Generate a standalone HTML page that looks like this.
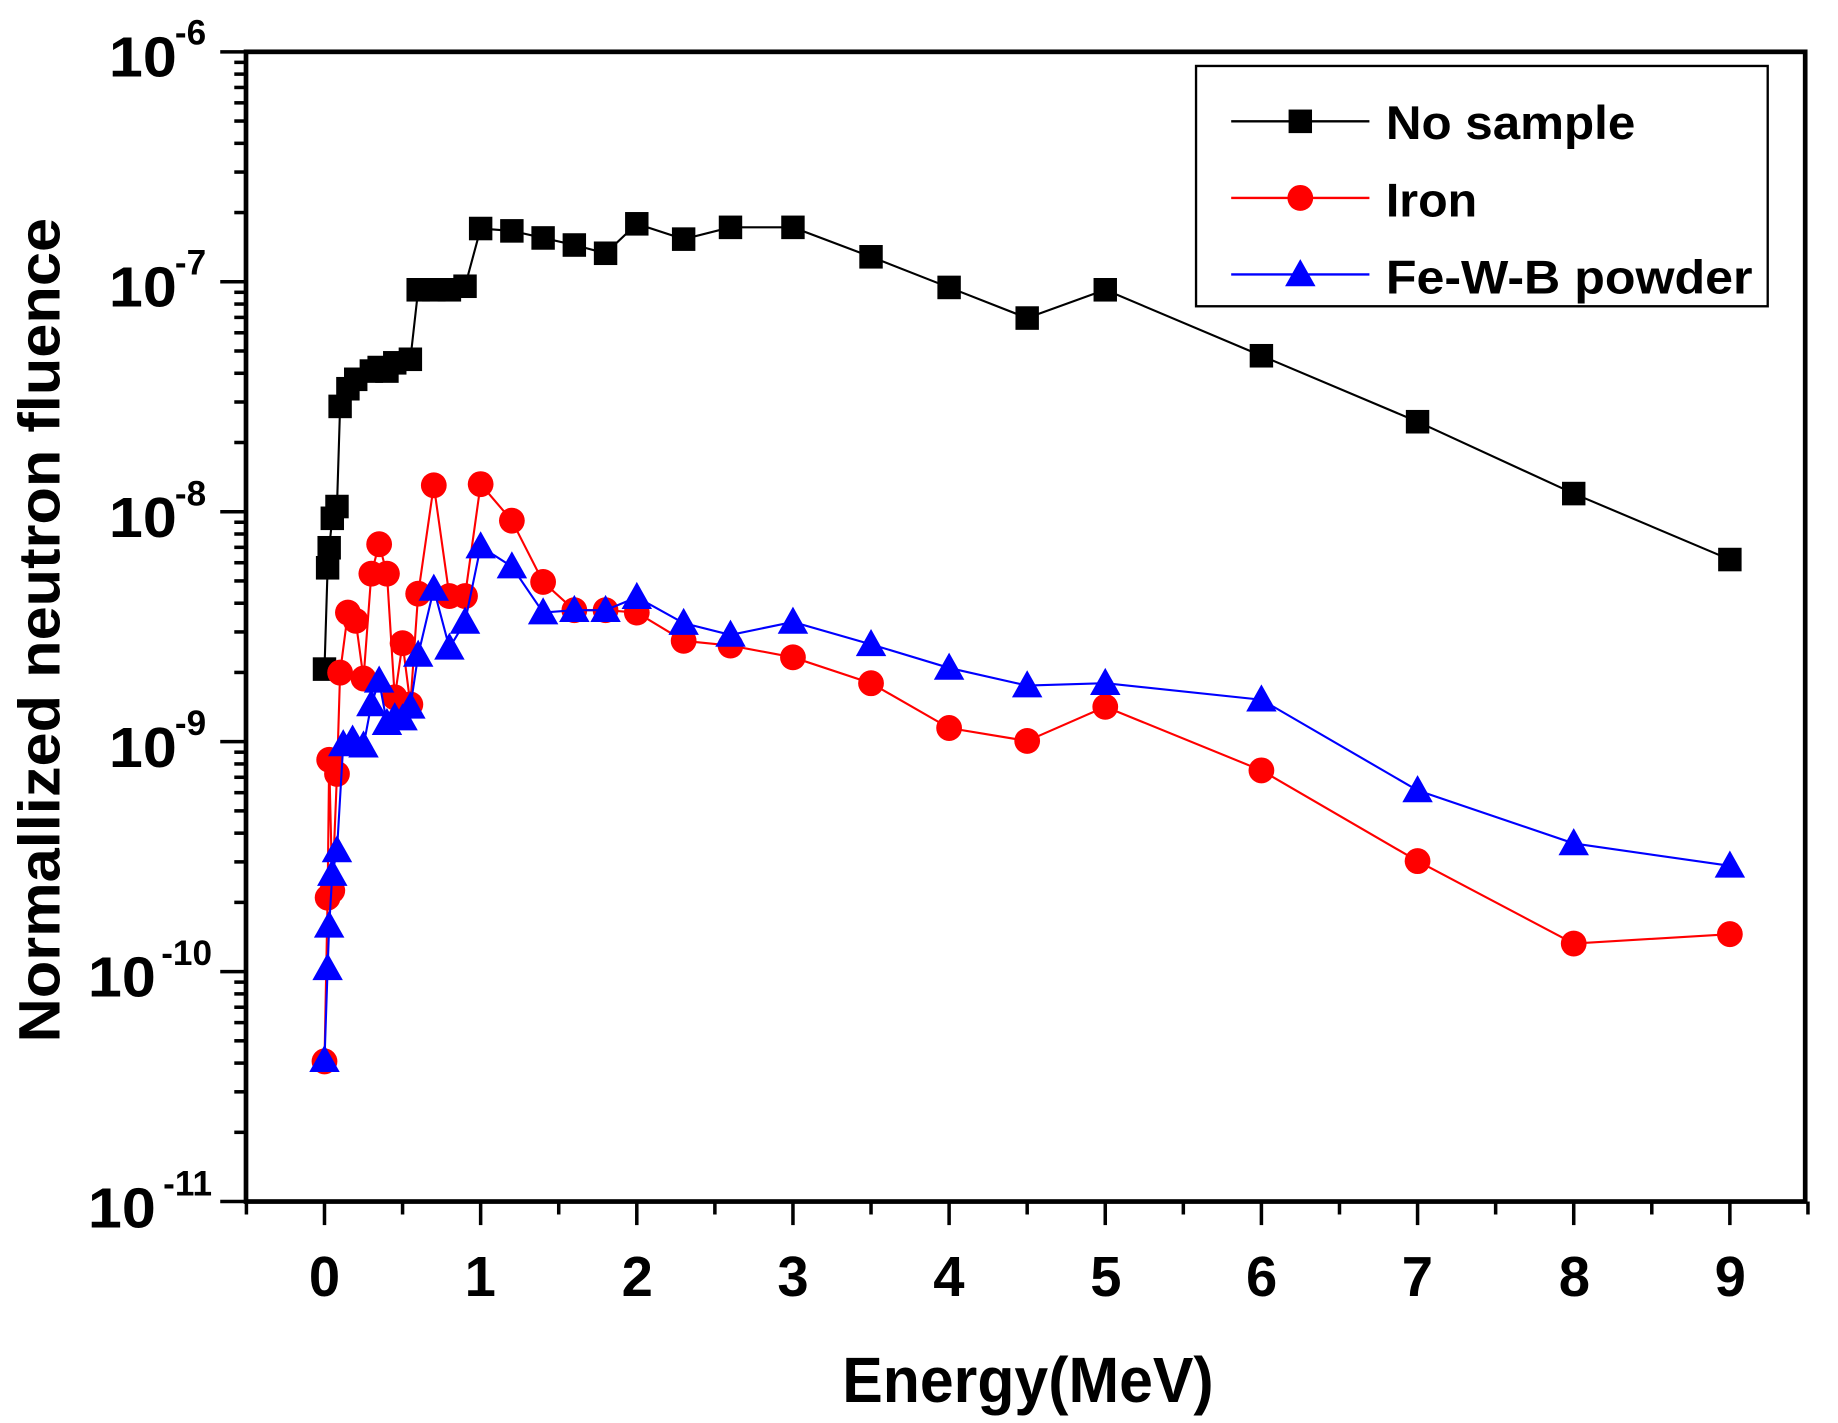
<!DOCTYPE html>
<html><head><meta charset="utf-8"><style>
html,body{margin:0;padding:0;background:#fff;}
svg{display:block;}
text{font-family:"Liberation Sans",Arial,sans-serif;font-weight:bold;fill:#000;}
</style></head><body>
<svg id="s" width="1838" height="1423" viewBox="0 0 1569 1208" preserveAspectRatio="none" xmlns="http://www.w3.org/2000/svg">
<rect x="0" y="0" width="1569" height="1208" fill="#fff"/>
<g transform="translate(1,0)">
<g id="ticks" stroke="#000" stroke-width="3"></g>
<g id="series"></g>
<rect x="209" y="44" width="1331" height="976" fill="none" stroke="#000" stroke-width="4"/>
<g font-size="48" text-anchor="end">
<text x="150" y="65" textLength="58" lengthAdjust="spacingAndGlyphs">10</text><text x="175" y="38" font-size="30" text-anchor="end">-6</text>
<text x="150" y="260" textLength="58" lengthAdjust="spacingAndGlyphs">10</text><text x="175" y="233" font-size="30" text-anchor="end">-7</text>
<text x="150" y="456" textLength="58" lengthAdjust="spacingAndGlyphs">10</text><text x="175" y="429" font-size="30" text-anchor="end">-8</text>
<text x="150" y="651" textLength="58" lengthAdjust="spacingAndGlyphs">10</text><text x="175" y="624" font-size="30" text-anchor="end">-9</text>
<text x="132" y="846" textLength="58" lengthAdjust="spacingAndGlyphs">10</text><text x="180" y="819" font-size="30" text-anchor="end">-10</text>
<text x="132" y="1042" textLength="58" lengthAdjust="spacingAndGlyphs">10</text><text x="180" y="1015" font-size="30" text-anchor="end">-11</text>
</g>
<g font-size="48" text-anchor="middle">
<text x="276" y="1100">0</text><text x="409" y="1100">1</text><text x="543" y="1100">2</text>
<text x="676" y="1100">3</text><text x="809" y="1100">4</text><text x="943" y="1100">5</text>
<text x="1076" y="1100">6</text><text x="1209" y="1100">7</text><text x="1343" y="1100">8</text>
<text x="1476" y="1100">9</text>
</g>
<text x="718" y="1190" font-size="54" textLength="317" lengthAdjust="spacingAndGlyphs">Energy(MeV)</text>
<text transform="translate(50,885) rotate(-90)" font-size="50" textLength="700" lengthAdjust="spacingAndGlyphs">Normallized neutron fluence</text>
<rect x="1020" y="56" width="488" height="204" fill="#fff" stroke="#000" stroke-width="2"/>
<line x1="1050" y1="103" x2="1168" y2="103" stroke="#000" stroke-width="2"/>
<rect x="1099" y="93" width="20" height="20" fill="#000"/>
<line x1="1050" y1="168" x2="1168" y2="168" stroke="#f00" stroke-width="2"/>
<circle cx="1109" cy="168" r="11" fill="#f00"/>
<line x1="1050" y1="233" x2="1168" y2="233" stroke="#00f" stroke-width="2"/>
<polygon points="1109,220 1096,243 1122,243" fill="#00f"/>
<g font-size="40">
<text x="1182" y="118" textLength="213" lengthAdjust="spacingAndGlyphs">No sample</text>
<text x="1182" y="184" textLength="78" lengthAdjust="spacingAndGlyphs">Iron</text>
<text x="1182" y="249" textLength="313" lengthAdjust="spacingAndGlyphs">Fe-W-B powder</text>
</g>
</g>
</svg>
<script>
(function(){
var NS="http://www.w3.org/2000/svg";
function el(t,a,p){var e=document.createElementNS(NS,t);for(var k in a)e.setAttribute(k,a[k]);p.appendChild(e);return e;}
var tk=document.getElementById('ticks');
var T0=44,dec=195.2;
for(var d=0;d<5;d++){for(var m=2;m<=9;m++){var y=T0+(d+1-Math.log10(m))*dec;el('line',{x1:199,y1:y,x2:209,y2:y},tk);}}
for(var d=0;d<=5;d++){var y=T0+d*dec;el('line',{x1:187,y1:y,x2:209,y2:y},tk);}
function X(e){return 276+133.3*e;}
for(var i=0;i<=9;i++){el('line',{x1:X(i),y1:1020,x2:X(i),y2:1040},tk);}
for(var i=-0.5;i<=9.5;i+=1){el('line',{x1:X(i),y1:1020,x2:X(i),y2:1031},tk);}
var blk=[[0,568],[0.02,482],[0.03,465],[0.05,440],[0.08,430],[0.1,345],[0.15,330],[0.2,322],[0.3,315],[0.35,312],[0.4,315],[0.45,308],[0.55,305],[0.6,246],[0.7,246],[0.8,246],[0.9,243],[1,194],[1.2,196],[1.4,202],[1.6,208],[1.8,215],[2,190],[2.3,203],[2.6,193],[3,193],[3.5,218],[4,244],[4.5,270],[5,246],[6,302],[7,358],[8,419],[9,475]];
var red=[[0,901],[0.02,762],[0.03,645],[0.05,756],[0.08,657],[0.1,571],[0.15,520],[0.2,527],[0.25,576],[0.3,487],[0.35,462],[0.4,487],[0.45,592],[0.5,546],[0.55,598],[0.6,504],[0.7,412],[0.8,506],[0.9,506],[1,411],[1.2,442],[1.4,494],[1.6,518],[1.8,518],[2,520],[2.3,544],[2.6,548],[3,558],[3.5,580],[4,618],[4.5,629],[5,600],[6,654],[7,731],[8,801],[9,793]];
var blu=[[0,900],[0.02,822],[0.03,786],[0.05,742],[0.08,722],[0.12,632],[0.18,628],[0.25,633],[0.3,598],[0.35,578],[0.4,614],[0.45,609],[0.5,610],[0.55,600],[0.6,556],[0.7,500],[0.8,550],[0.9,528],[1,464],[1.2,481],[1.4,520],[1.6,518],[1.8,518],[2,507],[2.3,529],[2.6,539],[3,528],[3.5,547],[4,567],[4.5,582],[5,580],[6,594],[7,671],[8,716],[9,735]];
var sg=document.getElementById('series');
function draw(d,c,mk){
 el('polyline',{points:d.map(function(p){return X(p[0])+','+p[1];}).join(' '),fill:'none',stroke:c,'stroke-width':1.8},sg);
 d.forEach(function(p){var x=X(p[0]),y=p[1];
  if(mk=='s')el('rect',{x:x-10,y:y-10,width:20,height:20,fill:c},sg);
  else if(mk=='c')el('circle',{cx:x,cy:y,r:11,fill:c},sg);
  else el('polygon',{points:x+','+(y-13)+' '+(x-13)+','+(y+10)+' '+(x+13)+','+(y+10),fill:c},sg);});
}
draw(blk,'#000','s');draw(red,'#f00','c');draw(blu,'#00f','t');
})();
</script>
</body></html>
